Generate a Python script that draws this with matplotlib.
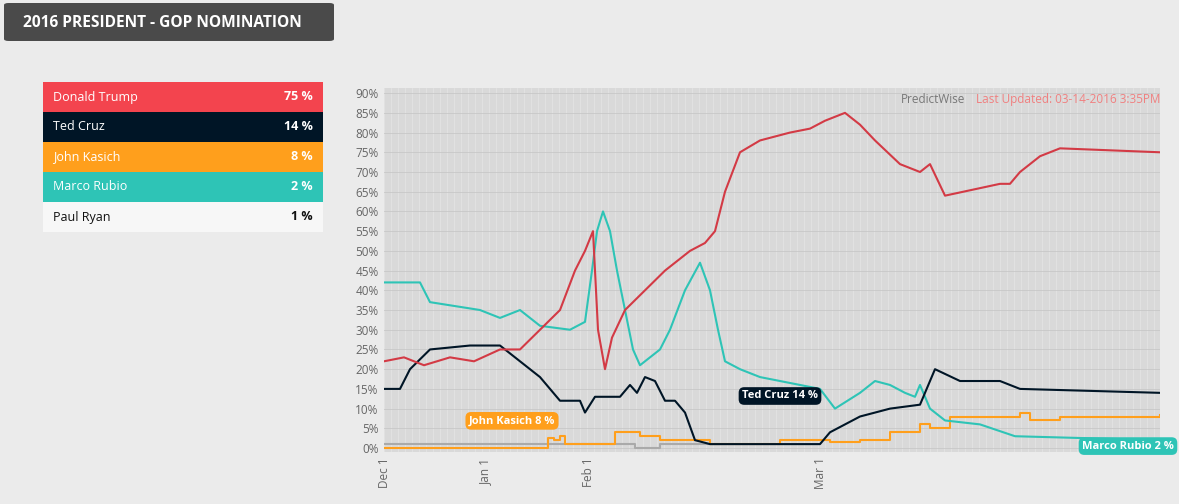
import matplotlib
matplotlib.use("Agg")
import matplotlib.pyplot as plt
from matplotlib.patches import Rectangle, FancyBboxPatch

# x positions are in axis units (index-like axis, 0 = Dec 1)
tick_pos = [0, 101, 204, 437]
tick_labels = ["Dec 1", "Jan 1", "Feb 1", "Mar 1"]

trump_x = [0,20,40,66,90,116,136,156,176,191,201,209,214,221,228,241,261,281,306,321,331,341,356,376,406,426,441,461,476,491,516,536,546,561,616,626,636,656,676,776]
trump_y = [22,23,21,23,22,25,25,30,35,45,50,55,30,20,28,35,40,45,50,52,55,65,75,78,80,81,83,85,82,78,72,70,72,64,67,67,70,74,76,75]

cruz_x = [0,16,26,46,86,116,136,156,176,196,201,211,236,246,253,261,271,281,291,301,311,326,436,446,476,506,536,541,551,576,616,636,776]
cruz_y = [15,15,20,25,26,26,22,18,12,12,9,13,13,16,14,18,17,12,12,9,2,1,1,4,8,10,11,14,20,17,17,15,14]

rubio_x = [0,36,46,96,116,136,156,186,201,208,213,219,226,233,241,249,256,276,286,301,316,326,334,341,356,376,416,436,451,476,491,506,521,531,536,546,561,596,631,776]
rubio_y = [42,42,37,35,33,35,31,30,32,45,55,60,55,45,35,25,21,25,30,40,47,40,30,22,20,18,16,15,10,14,17,16,14,13,16,10,7,6,3,2]

kasich_x = [0,163,164,170,176,181,216,231,256,276,316,326,396,436,446,476,506,536,546,566,616,636,646,676,776]
kasich_y = [0,0,2.5,2,3,1,1,4,3,2,2,1,2,2,1.5,2,4,6,5,8,8,9,7,8,8.5]

ryan_x = [0,246,251,271,276,336]
ryan_y = [1,1,0,0,1,1]

names = ["Donald Trump", "Ted Cruz", "John Kasich", "Marco Rubio", "Paul Ryan"]
pcts = ["75 %", "14 %", "8 %", "2 %", "1 %"]
colors = ["#f3444e", "#001526", "#ff9f1c", "#2ec4b6", "#f7f7f7"]
txtcol = ["white", "white", "white", "white", "#111111"]

W, H = 1179, 504
fig = plt.figure(figsize=(W/100, H/100), dpi=100)
fig.patch.set_facecolor("#ebebeb")
plt.rcParams["font.family"] = ["Open Sans", "DejaVu Sans"]

def fx(px): return px / W
def fy(py): return 1 - py / H

# header box
hdr = FancyBboxPatch((fx(4), fy(41)), fx(334) - fx(4), fy(3) - fy(41),
                     boxstyle="round,pad=0,rounding_size=0.004", transform=fig.transFigure,
                     facecolor="#4a4a4a", edgecolor="none")
fig.patches.append(hdr)
fig.text(fx(23), fy(23), "2016 PRESIDENT - GOP NOMINATION", color="white",
         fontsize=11.2, fontweight="bold", va="center", ha="left")

# legend table
for i, (n, p, c, tc) in enumerate(zip(names, pcts, colors, txtcol)):
    top = 82 + i * 30
    fig.patches.append(Rectangle((fx(43), fy(top + 30)), fx(323) - fx(43), fy(top) - fy(top + 30),
                                 transform=fig.transFigure, facecolor=c, edgecolor="none"))
    fig.text(fx(53), fy(top + 15), n, color=tc, fontsize=9, va="center")
    fig.text(fx(313), fy(top + 15), p, color=tc, fontsize=9, va="center", ha="right", fontweight="bold")

ax = fig.add_axes([fx(384), fy(452), fx(1160) - fx(384), fy(88) - fy(452)])
ax.set_facecolor("#d9d9d9")
ax.set_xlim(0, 776)
ax.set_ylim(-1.0, 91.3)
for xv in range(0, 777, 7):
    ax.axvline(xv, color="#e3e3e3", lw=0.6, zorder=0)
for yv in range(0, 91, 5):
    ax.axhline(yv, color="#c8c8c8", lw=0.6, zorder=0)

ax.plot(ryan_x, ryan_y, color="#aaaaaa", lw=1.5, drawstyle="steps-post")
ax.plot(kasich_x, kasich_y, color="#ff9f1c", lw=1.5, drawstyle="steps-post")
ax.plot(rubio_x, rubio_y, color="#2ec4b6", lw=1.5)
ax.plot(cruz_x, cruz_y, color="#001526", lw=1.5)
ax.plot(trump_x, trump_y, color="#d33a45", lw=1.5)

ax.set_yticks(range(0, 91, 5))
ax.set_yticklabels([f"{v}%" for v in range(0, 91, 5)], color="#666666", fontsize=8.5)
ax.set_xticks(tick_pos)
ax.set_xticklabels(tick_labels, rotation=90, color="#666666", fontsize=8.5)
ax.tick_params(length=0, pad=4)
for s in ax.spines.values():
    s.set_visible(False)

ax.text(517, 88.5, "PredictWise", color="#777777", fontsize=8.5, ha="left", va="center")
ax.text(776, 88.5, "Last Updated: 03-14-2016 3:35PM", color="#f08080", fontsize=8.5, ha="right", va="center")

def lab(x, y, s, c):
    ax.text(x, y, s, color="white", fontsize=8, fontweight="bold", ha="center", va="center",
            bbox=dict(boxstyle="round,pad=0.3,rounding_size=0.5", fc=c, ec="none"))
lab(128, 6.9, "John Kasich 8 %", "#ff9f1c")
lab(396, 13.2, "Ted Cruz 14 %", "#001526")
lab(744, 0.5, "Marco Rubio 2 %", "#2ec4b6")

fig.savefig("out.png", dpi=100, facecolor=fig.get_facecolor())
